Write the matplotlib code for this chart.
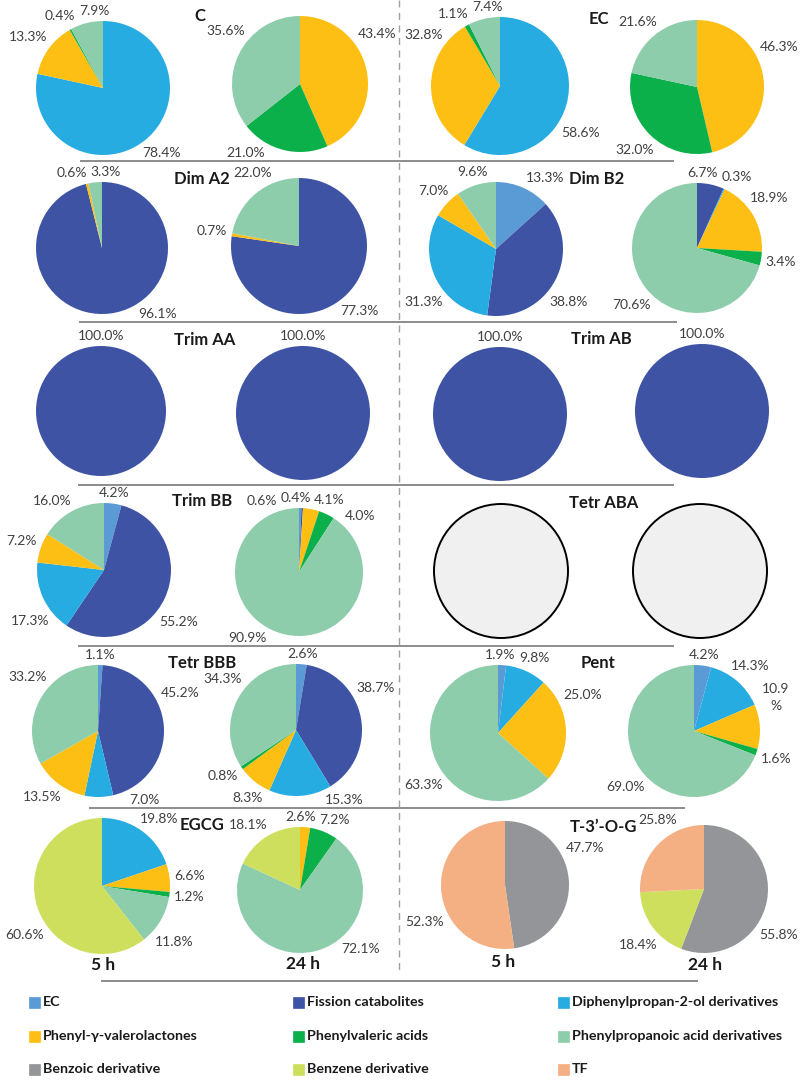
import matplotlib
matplotlib.use('Agg')
import matplotlib.pyplot as plt
from matplotlib.patches import Circle, Rectangle
import numpy as np

plt.rcParams['font.family'] = ['Lato', 'DejaVu Sans']

W, H = 800, 1091

categories = ['EC', 'Fission catabolites', 'Diphenylpropan-2-ol derivatives',
              'Phenyl-γ-valerolactones', 'Phenylvaleric acids',
              'Phenylpropanoic acid derivatives',
              'Benzoic derivative', 'Benzene derivative', 'TF']
colors = ['#5B9BD5', '#3F53A5', '#27ACE2', '#FDBF14', '#0BB04B',
          '#8ECDAB', '#939598', '#CEDF5E', '#F4AF83']

compounds = ['C', 'EC', 'Dim A2', 'Dim B2', 'Trim AA', 'Trim AB',
             'Trim BB', 'Tetr ABA', 'Tetr BBB', 'Pent', 'EGCG', 'T-3’-O-G']
times = ['5 h', '24 h']

# % of each catabolite class, same order as categories
c_5h = [0, 0, 78.4, 13.3, 0.4, 7.9, 0, 0, 0]
c_24h = [0, 0, 0, 43.4, 21.0, 35.6, 0, 0, 0]
ec_5h = [0, 0, 58.6, 32.8, 1.1, 7.4, 0, 0, 0]
ec_24h = [0, 0, 0, 46.3, 32.0, 21.6, 0, 0, 0]
dima2_5h = [0, 96.1, 0, 0.6, 0, 3.3, 0, 0, 0]
dima2_24h = [0, 77.3, 0, 0.7, 0, 22.0, 0, 0, 0]
dimb2_5h = [13.3, 38.8, 31.3, 7.0, 0, 9.6, 0, 0, 0]
dimb2_24h = [0, 6.7, 0.3, 18.9, 3.4, 70.6, 0, 0, 0]
trimaa_5h = [0, 100.0, 0, 0, 0, 0, 0, 0, 0]
trimaa_24h = [0, 100.0, 0, 0, 0, 0, 0, 0, 0]
trimab_5h = [0, 100.0, 0, 0, 0, 0, 0, 0, 0]
trimab_24h = [0, 100.0, 0, 0, 0, 0, 0, 0, 0]
trimbb_5h = [4.2, 55.2, 17.3, 7.2, 0, 16.0, 0, 0, 0]
trimbb_24h = [0.6, 0.4, 0, 4.1, 4.0, 90.9, 0, 0, 0]
tetraba_5h = None   # nothing detected
tetraba_24h = None
tetrbbb_5h = [1.1, 45.2, 7.0, 13.5, 0, 33.2, 0, 0, 0]
tetrbbb_24h = [2.6, 38.7, 15.3, 8.3, 0.8, 34.3, 0, 0, 0]
pent_5h = [1.9, 0, 9.8, 25.0, 0, 63.3, 0, 0, 0]
pent_24h = [4.2, 0, 14.3, 10.9, 1.6, 69.0, 0, 0, 0]
egcg_5h = [0, 0, 19.8, 6.6, 1.2, 11.8, 0, 60.6, 0]
egcg_24h = [0, 0, 0, 2.6, 7.2, 72.1, 0, 18.1, 0]
t3og_5h = [0, 0, 0, 0, 0, 0, 47.7, 0, 52.3]
t3og_24h = [0, 0, 0, 0, 0, 0, 55.8, 18.4, 25.8]

data = [(c_5h, c_24h), (ec_5h, ec_24h), (dima2_5h, dima2_24h),
        (dimb2_5h, dimb2_24h), (trimaa_5h, trimaa_24h), (trimab_5h, trimab_24h),
        (trimbb_5h, trimbb_24h), (tetraba_5h, tetraba_24h),
        (tetrbbb_5h, tetrbbb_24h), (pent_5h, pent_24h),
        (egcg_5h, egcg_24h), (t3og_5h, t3og_24h)]

# label text that wraps in the original (compound, time, class)
wrapped = {(9, 1, 3): '10.9\n%'}

# layout (pixels from top-left): pie centre x, centre y, radius
pie_pos = [
    [(103, 88, 67), (300, 84, 68), (500, 86, 69), (697, 87, 67)],
    [(102, 248, 66), (299, 246, 68), (496, 249, 67), (697, 248, 65)],
    [(101, 411, 65), (303, 413, 67), (500, 414, 67), (702, 411, 67)],
    [(104, 570, 67), (299, 572, 64), (501, 571, 67), (700, 571, 67)],
    [(98, 731, 66), (296, 730, 66), (498, 733, 68), (694, 731, 66)],
    [(102, 886, 68), (300, 890, 63), (505, 885, 64), (704, 889, 64)],
]
title_pos = [(200, 16), (599, 19), (202, 179), (597, 179), (205, 340), (601, 339),
             (202, 501), (604, 503), (202, 663), (598, 663), (202, 825), (603, 827)]
row_band = [(0, 160), (162, 321), (323, 484), (486, 645), (647, 807), (809, 956)]
sep_lines = [(161, 80, 674), (322, 79, 677), (485, 78, 674), (646, 78, 674),
             (808, 89, 685), (981, 101, 698)]

fig = plt.figure(figsize=(8, 10.91), dpi=100)
ax = fig.add_axes([0, 0, 1, 1])
renderer = fig.canvas.get_renderer()

LBL = dict(fontsize=10, color='#404040', linespacing=1.5)
obstacles = []   # boxes already used by text, image px (x0, y0, x1, y1)


def text_size(s, **kw):
    t = ax.text(0, 0, s, **kw)
    bb = t.get_window_extent(renderer)
    t.remove()
    return bb.width, bb.height


def nearest(X, Y, w, h):
    return np.hypot(max(abs(X) - w / 2, 0), max(abs(Y) - h / 2, 0))


def hits(x, y, w, h):
    for x0, y0, x1, y1 in obstacles:
        if x + w / 2 > x0 - 1 and x - w / 2 < x1 + 1 and y + h / 2 > y0 - 1 and y - h / 2 < y1 + 1:
            return True
    return False


def place(a, w, h, cx, cy, r, band, side_lim):
    # outside-end position of a label box for clockwise angle a (from 12 o'clock)
    d = r + 4
    ux, uy = np.sin(np.radians(a)), -np.cos(np.radians(a))
    t = 0
    while nearest(t * ux, t * uy, w, h) < d:
        t += 0.5
    X, Y = t * ux, t * uy
    Y = min(max(Y, band[0] - cy + h / 2 + 1), band[1] - cy - h / 2 - 1)
    sx = 1 if ux >= 0 else -1
    while nearest(X, Y, w, h) < d:
        X += 0.5 * sx
    Xc = min(max(X, side_lim[0] - cx + w / 2), side_lim[1] - cx - w / 2)
    if Xc != X:
        X = Xc
        sy = 1 if Y >= 0 else -1
        while nearest(X, Y, w, h) < d:
            Y += 0.5 * sy
    return cx + X, cy + Y


def draw_labels(ci, ti, vals, cx, cy, r, band, side_lim):
    idx = [k for k, v in enumerate(vals) if v > 0]
    tot = sum(vals[k] for k in idx)
    texts = [wrapped.get((ci, ti, k), f'{vals[k]:.1f}%') for k in idx]
    sizes = [text_size(s, **LBL) for s in texts]
    ang, acc = [], 0
    for k in idx:
        a = (acc + vals[k] / 2) / tot * 360
        acc += vals[k]
        if vals[k] / tot >= 0.10:
            # big slices: label drifts toward the nearest diagonal, as in the original
            diag = 45 + 90 * np.floor(a / 90)
            a += 0.5 * (diag - a)
        ang.append(a)
    if len(ang) == 1:
        ang = [0.0]
    ang = np.array(ang, dtype=float)
    n = len(ang)
    R = r + 20
    for _ in range(300):
        for i in range(n if n > 1 else 0):
            j = (i + 1) % n
            a1, a2 = ang[i], ang[j] + (360 if j == 0 else 0)
            phi = np.radians((a1 + a2) / 2)
            w = (sizes[i][0] + sizes[j][0]) / 2
            h = (sizes[i][1] + sizes[j][1]) / 2
            need = np.degrees((w * abs(np.cos(phi)) + h * abs(np.sin(phi))) / R) + 3
            if a2 - a1 < need:
                push = (need - (a2 - a1)) / 2
                ang[i] -= push
                ang[j] += push
    for s, a, (w, h) in zip(texts, ang, sizes):
        x, y = place(a, w, h, cx, cy, r, band, side_lim)
        for dlt in np.arange(2, 60, 2):
            if not hits(x, y, w, h):
                break
            for sgn in (1, -1):
                x2, y2 = place(a + sgn * dlt, w, h, cx, cy, r, band, side_lim)
                if not hits(x2, y2, w, h):
                    x, y = x2, y2
                    break
        obstacles.append((x - w / 2, y - h / 2, x + w / 2, y + h / 2))
        ax.text(x, H - y, s, ha='center', va='center', multialignment='center', **LBL)


TTL = dict(fontsize=12, fontweight='bold', color='#1a1a1a')
for ci, comp in enumerate(compounds):
    tx, ty = title_pos[ci]
    w, h = text_size(comp, **TTL)
    obstacles.append((tx - w / 2, ty - h / 2, tx + w / 2, ty + h / 2))
    ax.text(tx, H - ty, comp, ha='center', va='center', **TTL)

for ci, comp in enumerate(compounds):
    row, side = ci // 2, ci % 2
    lim = (2, 396) if side == 0 else (404, 798)
    for ti in range(2):
        cx, cy, r = pie_pos[row][side * 2 + ti]
        vals = data[ci][ti]
        if vals is None:
            ax.add_patch(Circle((cx, H - cy), r, facecolor='#F0F0F0',
                                edgecolor='black', linewidth=1.4))
            continue
        idx = [k for k, v in enumerate(vals) if v > 0]
        ax.pie([vals[k] for k in idx], colors=[colors[k] for k in idx],
               startangle=90, counterclock=False, center=(cx, H - cy), radius=r,
               wedgeprops=dict(linewidth=0))
        draw_labels(ci, ti, vals, cx, cy, r, row_band[row], lim)

# time labels under the last row
time_pos = [(103, 965), (303, 964), (503, 962), (705, 965)]
for k, (x, y) in enumerate(time_pos):
    ax.text(x, H - y, times[k % 2], ha='center', va='center', fontsize=12.5,
            fontweight='bold', color='#1a1a1a')

# separators
for y, x0, x1 in sep_lines:
    ax.plot([x0, x1], [H - y, H - y], color='#8c8c8c', lw=1.4, solid_capstyle='butt')
ax.plot([399, 399], [H, H - 975], color='#a0a0a0', lw=1.0, linestyle=(0, (5, 4)))

# legend
leg_x = [29, 293, 558]
leg_y = [1002, 1036, 1069]
for k, cat in enumerate(categories):
    x, y = leg_x[k % 3], leg_y[k // 3]
    ax.add_patch(Rectangle((x, H - y - 5.5), 11, 11, facecolor=colors[k],
                           edgecolor=colors[k], linewidth=0.5))
    ax.text(x + 14, H - y, cat, ha='left', va='center', fontsize=10.3,
            fontweight='bold', color='#1a1a1a')

ax.set_xlim(0, W)
ax.set_ylim(0, H)
ax.set_aspect('equal')
ax.axis('off')
fig.savefig('out.png', dpi=100)
